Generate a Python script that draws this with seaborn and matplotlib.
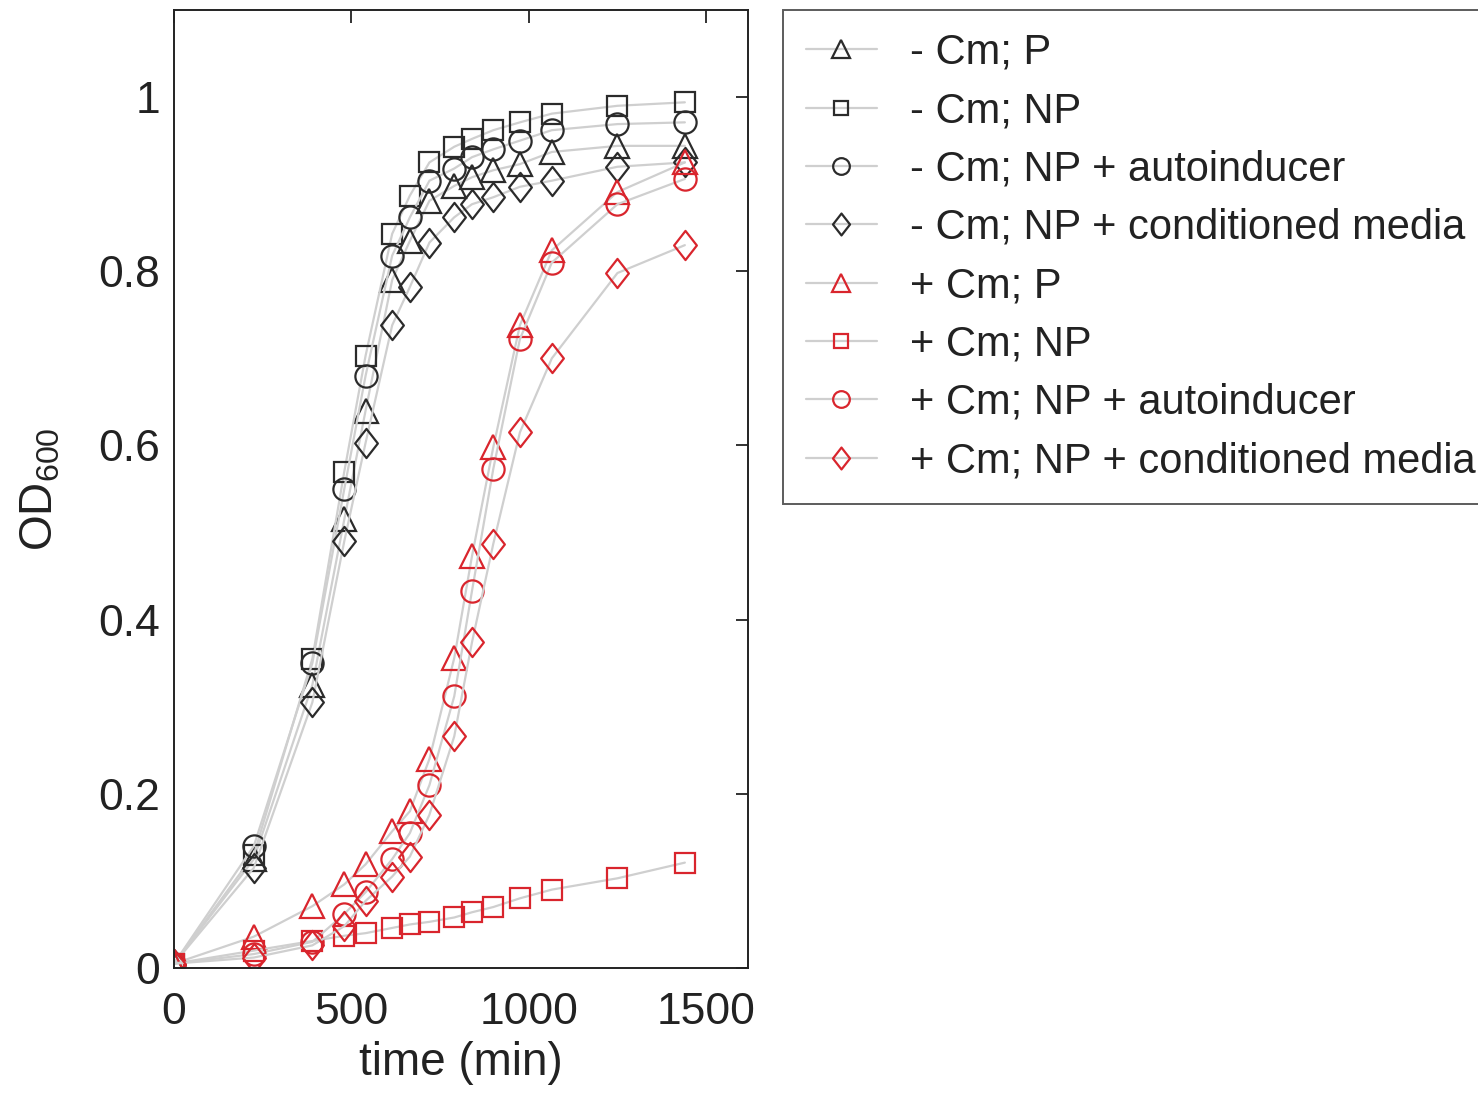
import numpy as np
import pandas as pd
import matplotlib
matplotlib.use('Agg')
import matplotlib.pyplot as plt
from matplotlib.path import Path
import seaborn as sns

# time points (min)
time = [0, 225, 390, 480, 540, 615, 665, 720, 790, 840, 900, 975, 1065, 1250, 1440]

# OD600 readings
minus_p = [0.005, 0.125, 0.325, 0.515, 0.64, 0.79, 0.835, 0.881, 0.898, 0.908, 0.916, 0.923, 0.937, 0.944, 0.944]
minus_np = [0.005, 0.13, 0.355, 0.57, 0.703, 0.843, 0.887, 0.925, 0.943, 0.952, 0.962, 0.971, 0.981, 0.99, 0.994]
minus_np_ai = [0.005, 0.14, 0.35, 0.55, 0.68, 0.818, 0.862, 0.904, 0.918, 0.931, 0.94, 0.95, 0.962, 0.969, 0.971]
minus_np_cm = [0.005, 0.115, 0.305, 0.49, 0.603, 0.738, 0.782, 0.833, 0.862, 0.877, 0.885, 0.897, 0.904, 0.92, 0.925]
plus_p = [0.005, 0.036, 0.071, 0.096, 0.119, 0.157, 0.18, 0.24, 0.356, 0.473, 0.598, 0.738, 0.824, 0.891, 0.925]
plus_np = [0.005, 0.02, 0.031, 0.037, 0.04, 0.046, 0.05, 0.053, 0.058, 0.064, 0.07, 0.08, 0.09, 0.103, 0.121]
plus_np_ai = [0.005, 0.016, 0.03, 0.062, 0.087, 0.125, 0.155, 0.21, 0.312, 0.433, 0.573, 0.722, 0.81, 0.877, 0.906]
plus_np_cm = [0.005, 0.012, 0.026, 0.048, 0.077, 0.105, 0.128, 0.176, 0.266, 0.374, 0.487, 0.615, 0.70, 0.798, 0.83]

labels = ['- Cm; P', '- Cm; NP', '- Cm; NP + autoinducer', '- Cm; NP + conditioned media',
          '+ Cm; P', '+ Cm; NP', '+ Cm; NP + autoinducer', '+ Cm; NP + conditioned media']
series = [minus_p, minus_np, minus_np_ai, minus_np_cm, plus_p, plus_np, plus_np_ai, plus_np_cm]

# matlab-like diamond: a bit narrower than tall
diamond = Path([(0, -1), (0.78, 0), (0, 1), (-0.78, 0), (0, -1)],
               [Path.MOVETO, Path.LINETO, Path.LINETO, Path.LINETO, Path.CLOSEPOLY])

black = '#2b2b2b'
red = '#d9252d'
edge_colors = [black] * 4 + [red] * 4
markers = ['^', 's', 'o', diamond] * 2
sizes = [17, 14, 16, 21] * 2
line_col = '#cfcfcf'

df = pd.DataFrame({'time': time * len(labels),
                   'OD': np.concatenate(series),
                   'group': np.repeat(labels, len(time))})

sns.set_style('white')
plt.rcParams['font.family'] = ['Liberation Sans', 'DejaVu Sans']
plt.rcParams['mathtext.default'] = 'regular'

fig = plt.figure(figsize=(14.78, 10.95), dpi=100)
ax = fig.add_axes([174 / 1478, 1 - 968 / 1095, (748 - 174) / 1478, (968 - 10) / 1095])

for lab, ec, mk, ms in zip(labels, edge_colors, markers, sizes):
    sns.lineplot(data=df[df['group'] == lab], x='time', y='OD', ax=ax,
                 color=line_col, lw=1.6, marker=mk, markersize=ms,
                 markerfacecolor='none', markeredgecolor=ec, markeredgewidth=1.6,
                 label=lab, legend=False)

ax.set_xlim(0, 1618)
ax.set_ylim(0, 1.1)
ax.set_xticks([0, 500, 1000, 1500])
ax.set_yticks([0, 0.2, 0.4, 0.6, 0.8, 1.0])
ax.set_yticklabels(['0', '0.2', '0.4', '0.6', '0.8', '1'])
ax.tick_params(direction='in', top=True, right=True, length=9, width=1.3,
               labelsize=32, colors='#222222')
ax.tick_params(axis='x', pad=17)
ax.tick_params(axis='y', pad=10)
for s in ax.spines.values():
    s.set_color('#222222')
    s.set_linewidth(1.4)
ax.set_xlabel('time (min)', fontsize=33, color='#222222', labelpad=6)
ax.set_ylabel('OD$_{600}$', fontsize=33, color='#222222', labelpad=26)

handles, _ = ax.get_legend_handles_labels()
leg = fig.legend(handles, labels, loc='upper left',
                 bbox_to_anchor=(783 / 1478, 1 - 10 / 1095),
                 fontsize=30, frameon=True, fancybox=False, markerscale=0.75,
                 handlelength=1.7, handletextpad=0.8, labelspacing=0.44,
                 borderpad=0.55, borderaxespad=0)
leg.get_frame().set_edgecolor('#333333')
leg.get_frame().set_linewidth(1.4)
for t in leg.get_texts():
    t.set_color('#222222')

fig.savefig('out.png', dpi=100)
